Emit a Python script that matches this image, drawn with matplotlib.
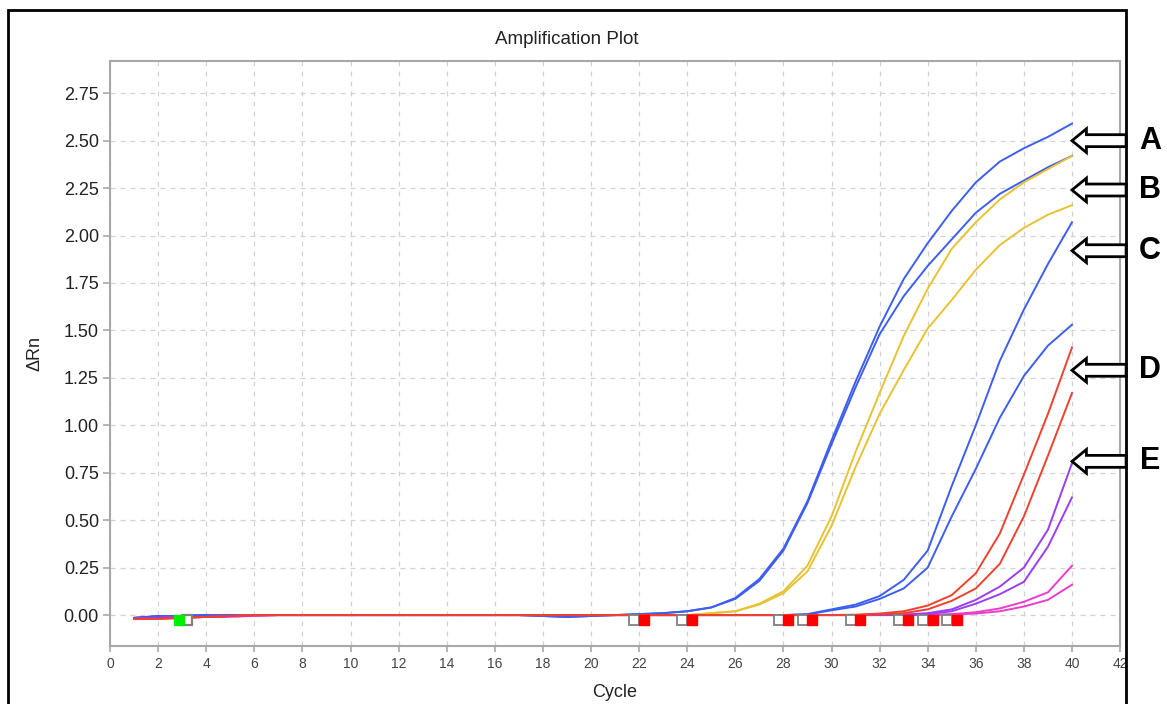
import matplotlib.pyplot as plt
import matplotlib.patches as patches
import numpy as np

plt.rcParams['font.family'] = ['Liberation Sans', 'DejaVu Sans']

cycles = list(range(1, 41))

# amplification curves, one value per cycle (1..40)
blue_a = [-0.015, -0.005, -0.005, 0, 0, 0, 0, 0, 0, 0,
          0, 0, 0, 0, 0, 0, 0, -0.005, -0.01, -0.005,
          0, 0.005, 0.01, 0.02, 0.04, 0.09, 0.19, 0.35, 0.60, 0.92,
          1.23, 1.52, 1.77, 1.96, 2.13, 2.28, 2.39, 2.46, 2.52, 2.59]
blue_b = [-0.015, -0.005, -0.005, 0, 0, 0, 0, 0, 0, 0,
          0, 0, 0, 0, 0, 0, 0, -0.005, -0.01, -0.005,
          0, 0.005, 0.01, 0.02, 0.04, 0.085, 0.18, 0.34, 0.59, 0.90,
          1.20, 1.48, 1.68, 1.84, 1.98, 2.12, 2.22, 2.29, 2.36, 2.42]
yellow_a = [-0.02, -0.015, -0.01, -0.005, 0, 0, 0, 0, 0, 0,
            0, 0, 0, 0, 0, 0, 0, 0, 0, 0,
            0, 0, 0, 0, 0.01, 0.02, 0.06, 0.125, 0.26, 0.52,
            0.86, 1.17, 1.47, 1.72, 1.93, 2.07, 2.19, 2.28, 2.35, 2.42]
yellow_b = [-0.02, -0.015, -0.01, -0.005, 0, 0, 0, 0, 0, 0,
            0, 0, 0, 0, 0, 0, 0, 0, 0, 0,
            0, 0, 0, 0, 0.01, 0.02, 0.055, 0.115, 0.23, 0.47,
            0.78, 1.06, 1.29, 1.51, 1.66, 1.82, 1.95, 2.04, 2.11, 2.16]
blue_c = [-0.015, -0.01, -0.005, 0, 0, 0, 0, 0, 0, 0,
          0, 0, 0, 0, 0, 0, 0, 0, 0, 0,
          0, 0, 0, 0, 0, 0, 0, 0, 0.005, 0.03,
          0.055, 0.10, 0.185, 0.34, 0.68, 1.00, 1.34, 1.61, 1.85, 2.07]
blue_d = [-0.015, -0.01, -0.005, 0, 0, 0, 0, 0, 0, 0,
          0, 0, 0, 0, 0, 0, 0, 0, 0, 0,
          0, 0, 0, 0, 0, 0, 0, 0, 0.003, 0.025,
          0.045, 0.085, 0.14, 0.25, 0.52, 0.77, 1.04, 1.26, 1.42, 1.53]
red_a = [-0.02, -0.02, -0.015, -0.01, -0.005, 0, 0, 0, 0, 0,
         0, 0, 0, 0, 0, 0, 0, 0, 0, 0,
         0, 0, 0, 0, 0, 0, 0, 0, 0, 0,
         0.002, 0.008, 0.02, 0.05, 0.105, 0.22, 0.43, 0.74, 1.06, 1.41]
red_b = [-0.02, -0.02, -0.015, -0.01, -0.005, 0, 0, 0, 0, 0,
         0, 0, 0, 0, 0, 0, 0, 0, 0, 0,
         0, 0, 0, 0, 0, 0, 0, 0, 0, 0,
         0, 0.004, 0.01, 0.03, 0.075, 0.14, 0.27, 0.52, 0.84, 1.17]
purple_a = [-0.02, -0.015, -0.01, -0.01, -0.005, 0, 0, 0, 0, 0,
            0, 0, 0, 0, 0, 0, 0, 0, 0, 0,
            0, 0, 0, 0, 0, 0, 0, 0, 0, 0,
            0, 0, 0.003, 0.01, 0.03, 0.08, 0.15, 0.25, 0.45, 0.80]
purple_b = [-0.02, -0.015, -0.01, -0.01, -0.005, 0, 0, 0, 0, 0,
            0, 0, 0, 0, 0, 0, 0, 0, 0, 0,
            0, 0, 0, 0, 0, 0, 0, 0, 0, 0,
            0, 0, 0, 0.005, 0.02, 0.06, 0.11, 0.175, 0.36, 0.62]
magenta_a = [-0.02, -0.015, -0.012, -0.01, -0.008, -0.004, 0, 0, 0, 0,
             0, 0, 0, 0, 0, 0, 0, 0, 0, 0,
             0, 0, 0, 0, 0, 0, 0, 0, 0, 0,
             0, 0, 0, 0, 0.005, 0.015, 0.035, 0.07, 0.12, 0.26]
magenta_b = [-0.02, -0.015, -0.012, -0.01, -0.008, -0.004, 0, 0, 0, 0,
             0, 0, 0, 0, 0, 0, 0, 0, 0, 0,
             0, 0, 0, 0, 0, 0, 0, 0, 0, 0,
             0, 0, 0, 0, 0.003, 0.008, 0.02, 0.045, 0.08, 0.16]

# threshold cycle markers
ct_start = [21.8, 23.8, 27.8, 28.8, 30.8, 32.8, 33.8, 34.8]
ct_end = [22.2, 24.2, 28.2, 29.2, 31.2, 33.2, 34.2, 35.2]
baseline_start = [2.85]
baseline_end = [3.2]

labels = ['A', 'B', 'C', 'D', 'E']
label_y = [2.50, 2.24, 1.92, 1.29, 0.81]

blue = '#3d5ef0'
yellow = '#e8c233'
red = '#f0402e'
purple = '#9b3df0'
magenta = '#ec3ccb'

fig = plt.figure(figsize=(11.67, 7.04), dpi=100)
ax = fig.add_axes([0.0943, 0.0824, 0.8655, 0.8310])

series = [(blue_a, blue), (blue_b, blue), (yellow_a, yellow), (yellow_b, yellow),
          (blue_c, blue), (blue_d, blue), (magenta_a, magenta), (magenta_b, magenta),
          (purple_a, purple), (purple_b, purple), (red_a, red), (red_b, red)]
for vals, col in series:
    ax.plot(cycles, vals, color=col, lw=1.4, zorder=3)

marker_y = -0.025
ax.plot(ct_start, [marker_y] * len(ct_start), 's', ms=6.5, mfc='white', mec='#808080', mew=1.3, zorder=4)
ax.plot(ct_end, [marker_y] * len(ct_end), 's', ms=7, color='red', zorder=5)
ax.plot(baseline_end, [marker_y] * len(baseline_end), 's', ms=6.5, mfc='white', mec='#808080', mew=1.6, zorder=4)
ax.plot(baseline_start, [marker_y] * len(baseline_start), 's', ms=7.5, color='#00ee00', zorder=5)

ax.set_xlim(0, 42)
ax.set_ylim(-0.163, 2.92)
ax.set_xticks(np.arange(0, 43, 2))
ax.set_yticks(np.arange(0, 2.76, 0.25))
ax.set_yticklabels(['%.2f' % v for v in np.arange(0, 2.76, 0.25)])
ax.grid(True, color='#d2d2d2', linestyle=(0, (4, 4)), lw=0.9)
ax.set_axisbelow(True)
for s in ax.spines.values():
    s.set_color('#a8a8a8')
    s.set_linewidth(1.5)
ax.tick_params(axis='y', colors='#a8a8a8', labelcolor='#222222', labelsize=13, length=5, width=1.2, pad=3)
ax.tick_params(axis='x', colors='#a8a8a8', labelcolor='#444444', labelsize=10, length=4, width=1.2, pad=4)

ax.set_xlabel('Cycle', fontsize=13, color='#222222')
ax.xaxis.set_label_coords(0.5, -0.079)
ax.xaxis.label.set_va('center')
ax.set_ylabel('ΔRn', fontsize=13, color='#222222')
ax.yaxis.set_label_coords(-0.074, 0.5)
ax.yaxis.label.set_va('center')

fig.text(567 / 1167, 1 - 39 / 704, 'Amplification Plot', ha='center', va='center',
         fontsize=13.5, color='#222222')

# outer frame
frame_top = 1 - 10 / 704
frame = patches.Rectangle((8 / 1167, -0.05), (1126 - 8) / 1167, frame_top + 0.05,
                          transform=fig.transFigure, fill=False, ec='black', lw=2, zorder=10)
fig.add_artist(frame)

# labelled block arrows
for lab, yv in zip(labels, label_y):
    arr = patches.FancyArrow(42.25, yv, -2.25, 0, width=0.063, head_width=0.125,
                             head_length=0.6, length_includes_head=True,
                             fc='white', ec='black', lw=2, clip_on=False, zorder=11)
    ax.add_patch(arr)
    ax.text(43.25, yv, lab, ha='center', va='center', fontsize=22, fontweight='bold',
            clip_on=False)

fig.savefig('out.png', dpi=100)
